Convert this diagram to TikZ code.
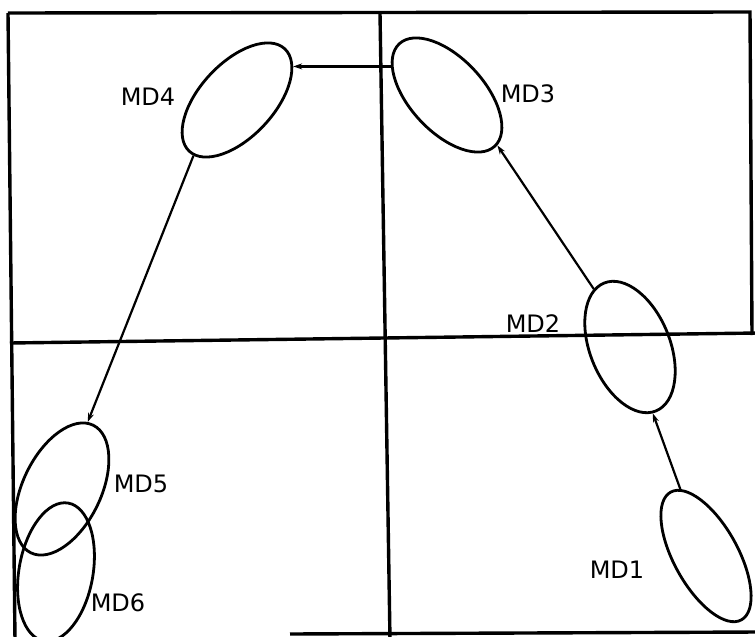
\documentclass[tikz,border=0pt]{standalone}
\usepackage{fontspec}
\setmainfont{DejaVu Sans}
\usetikzlibrary{shapes.geometric,arrows.meta}
\begin{document}
\begin{tikzpicture}[x=1pt,y=-1pt,
  frame/.style={line width=3.4pt},
  blob/.style={draw,ellipse,line width=2.8pt,inner sep=0pt},
  link/.style={line width=2.2pt,-{Stealth[length=9pt,width=6pt]}},
  lbl/.style={inner sep=0pt,font=\fontsize{24}{24}\selectfont}]
\useasboundingbox (0,0) rectangle (755,637);
\clip (0,0) rectangle (755,637);
% frame and quadrant lines
\draw[frame] (8,13) -- (750,12) -- (752,335);
\draw[frame] (8,13) -- (15,640);
\draw[frame] (10,343) -- (758,333);
\draw[frame] (380,13) -- (390,640);
\draw[frame] (290,634) -- (758,632);
% ellipses
\node[blob,minimum width=146pt,minimum height=64pt,rotate=-61] (md1) at (706,556) {};
\node[blob,minimum width=138pt,minimum height=80pt,rotate=-68] (md2) at (630,347) {};
\node[blob,minimum width=140pt,minimum height=74pt,rotate=-47] (md3) at (447,95) {};
\node[blob,minimum width=140pt,minimum height=74pt,rotate=47] (md4) at (237,100) {};
\node[blob,minimum width=142pt,minimum height=78pt,rotate=64] (md5) at (62,489) {};
\node[blob,minimum width=140pt,minimum height=74pt,rotate=80] (md6) at (56,572) {};
% labels
\node[lbl] (t1) at (617,570) {MD1};
\node[lbl] (t2) at (533,324) {MD2};
\node[lbl] (t3) at (528,94) {MD3};
\node[lbl] (t4) at (148,97) {MD4};
\node[lbl] (t5) at (141,484) {MD5};
\node[lbl] (t6) at (118,603) {MD6};
% connectors
\draw[link] (md1.172) -- (md2.357);
\draw[link] (md2.190) -- (md3.2);
\draw[link] (md3.200) -- (md3.200 -| md4.343);
\draw[link] (md4.185) -- (md5.5);
\end{tikzpicture}
\end{document}
